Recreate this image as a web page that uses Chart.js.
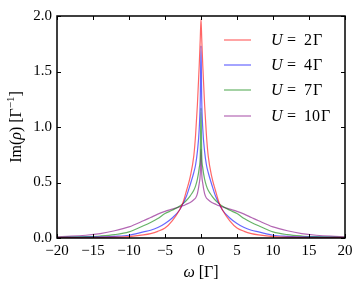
<!DOCTYPE html>
<html>
<head>
<meta charset="utf-8">
<script src="https://cdn.jsdelivr.net/npm/chart.js@4.4.1/dist/chart.umd.min.js"></script>
<style>
  html, body { margin: 0; padding: 0; background: #fff; }
  #wrap { width: 362px; height: 288px; }
</style>
</head>
<body>
<div id="wrap"><canvas id="c" width="362" height="288"></canvas></div>
<script>
// --- DADOS ---
const omega = [-20, -18, -16, -14, -12, -10, -8, -7, -6, -5, -4, -3, -2.5, -2, -1.5, -1, -0.75, -0.5, -0.25, -0.1,
  0, 0.1, 0.25, 0.5, 0.75, 1, 1.5, 2, 2.5, 3, 4, 5, 6, 7, 8, 10, 12, 14, 16, 18, 20];

const rhoU2 = [0.002, 0.003, 0.004, 0.005, 0.008, 0.012, 0.028, 0.04, 0.06, 0.09, 0.155, 0.25, 0.32, 0.43, 0.55, 0.74, 0.93, 1.2, 1.55, 1.8,
  1.97, 1.8, 1.55, 1.2, 0.93, 0.74, 0.55, 0.43, 0.32, 0.25, 0.155, 0.09, 0.06, 0.04, 0.028, 0.012, 0.008, 0.005, 0.004, 0.003, 0.002];

const rhoU4 = [0.004, 0.005, 0.007, 0.01, 0.015, 0.025, 0.055, 0.07, 0.095, 0.13, 0.18, 0.25, 0.31, 0.38, 0.48, 0.59, 0.66, 0.78, 0.98, 1.25,
  1.73, 1.25, 0.98, 0.78, 0.66, 0.59, 0.48, 0.38, 0.31, 0.25, 0.18, 0.13, 0.095, 0.07, 0.055, 0.025, 0.015, 0.01, 0.007, 0.005, 0.004];

const rhoU7 = [0.006, 0.008, 0.012, 0.018, 0.03, 0.055, 0.11, 0.14, 0.175, 0.22, 0.25, 0.285, 0.31, 0.34, 0.38, 0.43, 0.47, 0.53, 0.63, 0.75,
  1.17, 0.75, 0.63, 0.53, 0.47, 0.43, 0.38, 0.34, 0.31, 0.285, 0.25, 0.22, 0.175, 0.14, 0.11, 0.055, 0.03, 0.018, 0.012, 0.008, 0.006];

const rhoU10 = [0.011, 0.016, 0.025, 0.04, 0.065, 0.1, 0.155, 0.185, 0.215, 0.24, 0.26, 0.28, 0.29, 0.305, 0.32, 0.345, 0.36, 0.4, 0.49, 0.58,
  0.8, 0.58, 0.49, 0.4, 0.36, 0.345, 0.32, 0.305, 0.29, 0.28, 0.26, 0.24, 0.215, 0.185, 0.155, 0.1, 0.065, 0.04, 0.025, 0.016, 0.011];

const serieNomes = ["2", "4", "7", "10"];
const serieCores = ["rgba(255,0,0,0.6)", "rgba(0,0,255,0.6)", "rgba(0,128,0,0.6)", "rgba(128,0,128,0.6)"];
const xTicks = [-20, -15, -10, -5, 0, 5, 10, 15, 20];
const yTicks = [0, 0.5, 1.0, 1.5, 2.0];

const FONTE = "'Liberation Serif', 'DejaVu Serif', serif";
const menos = (v) => v < 0 ? "\u2212" + Math.abs(v) : String(v);

const series = [rhoU2, rhoU4, rhoU7, rhoU10];
const datasets = series.map((s, i) => ({
  label: "U = " + serieNomes[i] + " \u0393",
  data: omega.map((w, j) => ({ x: w, y: s[j] })),
  borderColor: serieCores[i],
  borderWidth: 1.2,
  pointRadius: 0,
  fill: false,
  cubicInterpolationMode: "monotone"
}));

// moldura, ticks internos, legenda e títulos dos eixos
const moldura = {
  id: "moldura",
  afterDraw(chart) {
    const ctx = chart.ctx;
    const a = chart.chartArea;
    const xs = chart.scales.x, ys = chart.scales.y;
    ctx.save();
    ctx.strokeStyle = "#000";
    ctx.lineWidth = 1;
    ctx.beginPath();
    xTicks.forEach(t => {
      const px = Math.round(xs.getPixelForValue(t)) + 0.5;
      ctx.moveTo(px, a.bottom); ctx.lineTo(px, a.bottom - 4);
      ctx.moveTo(px, a.top); ctx.lineTo(px, a.top + 4);
    });
    yTicks.forEach(t => {
      const py = Math.round(ys.getPixelForValue(t)) + 0.5;
      ctx.moveTo(a.left, py); ctx.lineTo(a.left + 4, py);
      ctx.moveTo(a.right, py); ctx.lineTo(a.right - 4, py);
    });
    ctx.stroke();
    ctx.lineWidth = 1.5;
    ctx.strokeRect(a.left, a.top, a.right - a.left, a.bottom - a.top);

    // legenda
    const ly = [40, 65, 90, 116];
    chart.data.datasets.forEach((d, i) => {
      ctx.strokeStyle = d.borderColor;
      ctx.lineWidth = 1.2;
      ctx.beginPath();
      ctx.moveTo(224, ly[i]); ctx.lineTo(251, ly[i]);
      ctx.stroke();
      ctx.fillStyle = "#000";
      ctx.textBaseline = "middle";
      ctx.textAlign = "left";
      ctx.font = "italic 16px " + FONTE;
      ctx.fillText("U", 271, ly[i] + 1);
      ctx.font = "16px " + FONTE;
      ctx.fillText("=", 287, ly[i] + 1);
      ctx.fillText(serieNomes[i], 304, ly[i] + 1);
      ctx.fillText("\u0393", 305 + ctx.measureText(serieNomes[i]).width, ly[i] + 1);
    });

    // título do eixo x
    ctx.fillStyle = "#000";
    ctx.textBaseline = "middle";
    ctx.font = "italic 16px " + FONTE;
    const wOm = ctx.measureText("\u03c9").width;
    ctx.font = "16px " + FONTE;
    const wRest = ctx.measureText(" [\u0393]").width;
    let x0 = (a.left + a.right) / 2 - (wOm + wRest) / 2;
    ctx.textAlign = "left";
    ctx.font = "italic 16px " + FONTE;
    ctx.fillText("\u03c9", x0, 273);
    ctx.font = "16px " + FONTE;
    ctx.fillText(" [\u0393]", x0 + wOm, 273);

    // título do eixo y
    ctx.translate(17, (a.top + a.bottom) / 2);
    ctx.rotate(-Math.PI / 2);
    const partes = [
      { t: "Im(", f: "16px " + FONTE, dy: 0 },
      { t: "\u03c1", f: "italic 16px " + FONTE, dy: 0 },
      { t: ") [\u0393", f: "16px " + FONTE, dy: 0 },
      { t: "\u22121", f: "11px " + FONTE, dy: -6 },
      { t: "]", f: "16px " + FONTE, dy: 0 }
    ];
    let total = 0;
    partes.forEach(p => { ctx.font = p.f; p.w = ctx.measureText(p.t).width; total += p.w; });
    let px = -total / 2;
    partes.forEach(p => {
      ctx.font = p.f;
      ctx.fillText(p.t, px, p.dy);
      px += p.w;
    });
    ctx.restore();
  }
};

new Chart(document.getElementById("c"), {
  type: "line",
  data: { datasets },
  options: {
    responsive: false,
    animation: false,
    layout: { padding: { top: 16, right: 17, left: 0, bottom: 0 } },
    plugins: { legend: { display: false }, tooltip: { enabled: false } },
    scales: {
      x: {
        type: "linear", min: -20, max: 20,
        afterBuildTicks: (s) => { s.ticks = xTicks.map(v => ({ value: v })); },
        afterFit: (s) => { s.height = 50; },
        grid: { display: false, drawTicks: false },
        border: { display: false },
        ticks: { padding: 4, color: "#000", font: { family: FONTE, size: 15 }, maxRotation: 0, callback: (v) => menos(v) }
      },
      y: {
        type: "linear", min: 0, max: 2,
        afterBuildTicks: (s) => { s.ticks = yTicks.map(v => ({ value: v })); },
        afterFit: (s) => { s.width = 57; },
        grid: { display: false, drawTicks: false },
        border: { display: false },
        ticks: { padding: 5, color: "#000", font: { family: FONTE, size: 15 }, callback: (v) => v.toFixed(1) }
      }
    }
  },
  plugins: [moldura]
});
</script>
</body>
</html>
